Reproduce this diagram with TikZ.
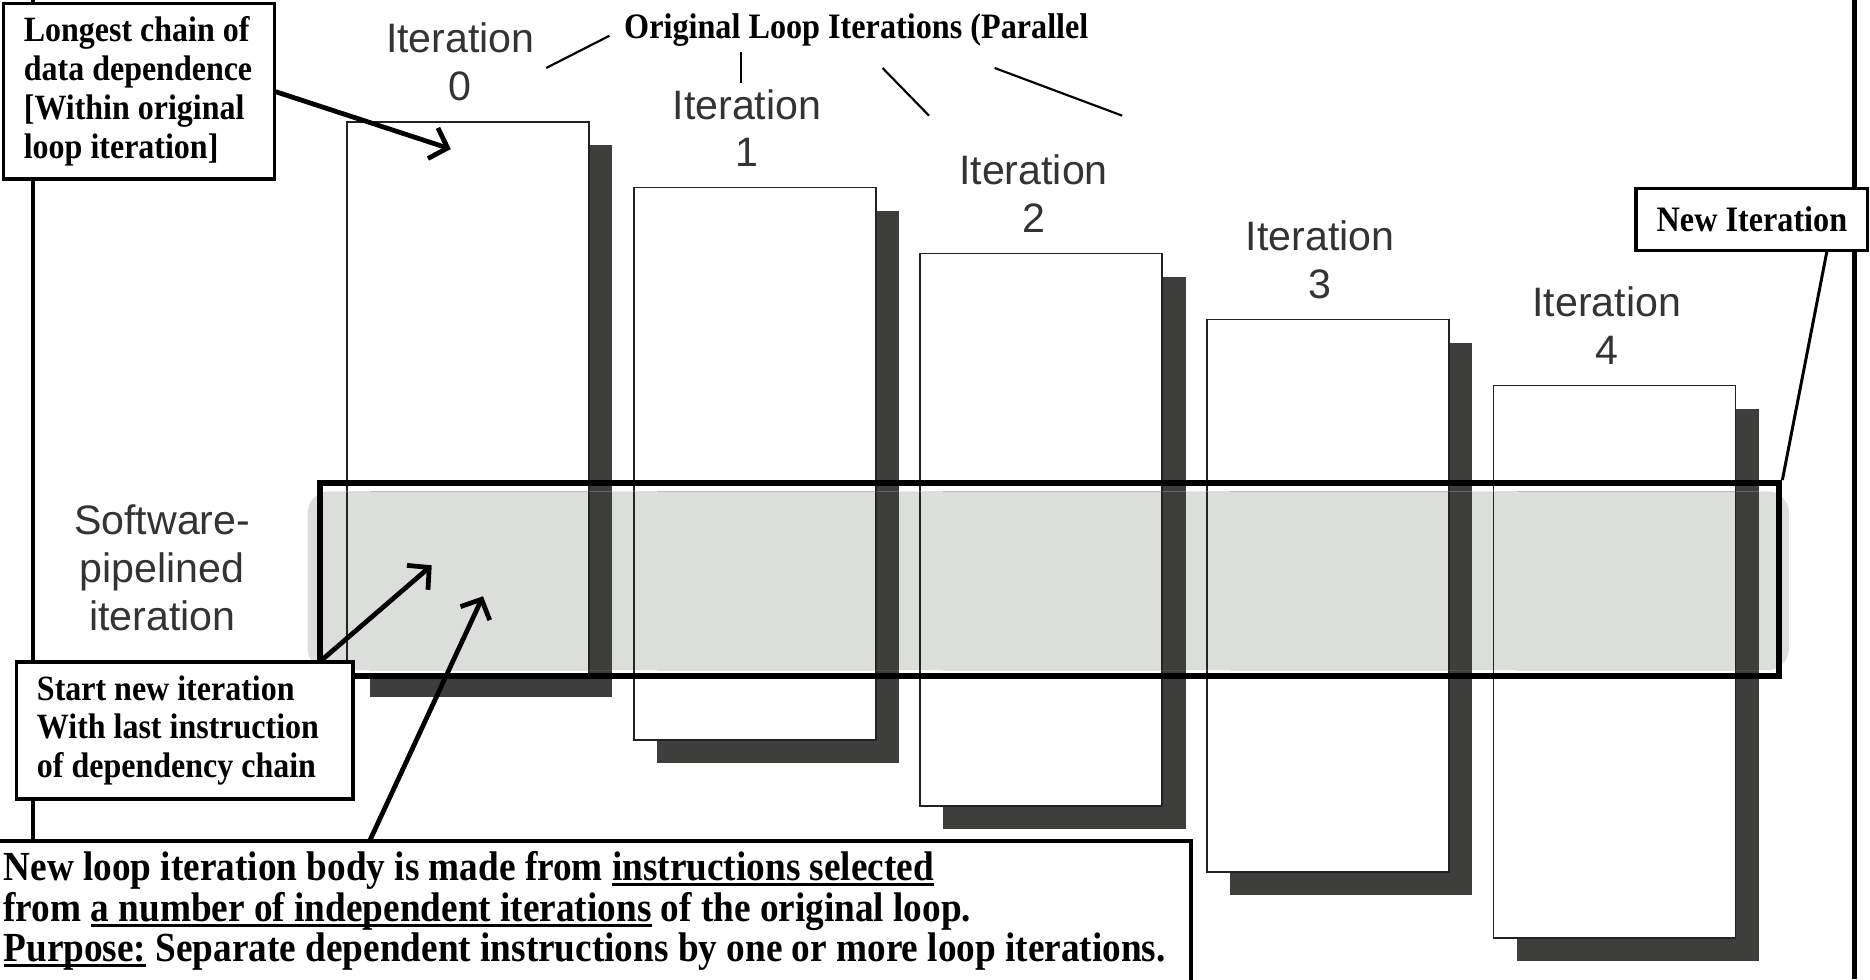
\documentclass[tikz,border=0pt]{standalone}
\usepackage{fontspec}
\setmainfont{Liberation Serif}
\newfontfamily\sansf{Liberation Sans}
\newfontfamily\condserif{Liberation Serif}[FakeStretch=0.9]
\usetikzlibrary{arrows.meta,calc}
\definecolor{shadowc}{HTML}{3E3F3C}
\definecolor{bandc}{HTML}{DCDEDB}
\definecolor{boxline}{HTML}{222222}
\definecolor{labelc}{HTML}{333333}
\newcommand\myul[1]{\setbox0\hbox{#1}\rlap{\rule[-4.5pt]{\wd0}{2.5pt}}\box0\relax}
\begin{document}
\begin{tikzpicture}[x=1pt,y=-1pt,
  itbox/.style={draw=boxline, line width=1.5pt, fill=white, minimum width=203pt, minimum height=463pt, inner sep=0pt, outer sep=0pt},
  shadowbox/.style={fill=shadowc, minimum width=203pt, minimum height=463pt, inner sep=0pt, outer sep=0pt},
  itlabel/.style={align=center, text=labelc, font=\sansf\fontsize{34.5}{40}\selectfont, inner sep=0pt},
  callout/.style={draw=black, line width=3pt, fill=white, font=\condserif\bfseries\fontsize{29.8}{32.5}\selectfont, inner ysep=0pt, outer sep=0pt},
  arr/.style={line width=4pt, -{Straight Barb[length=13pt,width=27pt]}},
  thinln/.style={line width=1.8pt}
]
\useasboundingbox (0,0) rectangle (1568,821);
% page border lines
\draw[line width=3.5pt] (28,0) -- (28,705);
\draw[line width=3.5pt] (1555,0) -- (1555,821);
% iteration boxes
\foreach \i in {0,...,4}{
  \pgfmathsetmacro\cx{291+240.3*\i+101.5}
  \pgfmathsetmacro\cy{102+55.3*\i+231.5}
  \node[shadowbox] (s\i) at (\cx+19.5,\cy+19.5) {};
  \node[itbox] (b\i) at (\cx,\cy) {};
  \node[itlabel] (l\i) at (\cx-6.5,\cy-281.5) {Iteration\\\i};
}
% software pipelined band
\fill[bandc, rounded corners=18pt] (258,412) rectangle (1500,562);
\begin{scope}
  \clip[rounded corners=18pt] (258,412) rectangle (1500,562);
  \foreach \i in {0,...,4}{
    \fill[shadowc] (s\i.south west) rectangle (s\i.north east);
    \filldraw[fill=bandc, draw=boxline, line width=1.5pt] (b\i.south west) rectangle (b\i.north east);
  }
\end{scope}
\node[draw=black, line width=5pt, minimum width=1224pt, minimum height=162pt, inner sep=0pt] (pipe) at (880,486) {};
\node[itlabel] (sw) at (136,476) {Software-\\pipelined\\iteration};
% title
\node[font=\condserif\bfseries\fontsize{30}{32.5}\selectfont, inner sep=0pt] (ol) at (718,25) {Original Loop Iterations (Parallel};
\coordinate (o1a) at (458,57); \coordinate (o1b) at (511,30);
\coordinate (o2a) at (621,44); \coordinate (o2b) at (621,70);
\coordinate (o3a) at (740,57); \coordinate (o3b) at (779,97);
\coordinate (o4a) at (834,57); \coordinate (o4b) at (941,97);
\draw[thinln] (o1a) -- (o1b);
\draw[thinln] (o2a) -- (o2b);
\draw[thinln] (o3a) -- (o3b);
\draw[thinln] (o4a) -- (o4b);
% callouts
\node[callout, align=flush left, text width=193pt, inner xsep=17pt, minimum height=147pt, anchor=north west] (lc) at (3,3)
  {Longest chain of\\data dependence\\{[}Within original\\loop iteration{]}};
\node[callout, align=flush left, text width=248pt, inner xsep=17pt, minimum height=115pt, anchor=north west] (sn) at (14,555)
  {Start new iteration\\With last instruction\\of dependency chain};
\node[callout, align=center, minimum width=194pt, minimum height=52pt, inner xsep=0pt, anchor=north west,
      font=\condserif\bfseries\fontsize{30}{32.5}\selectfont] (ni) at (1372,158)
  {New Iteration};
\node[callout, align=left, inner xsep=8pt, minimum height=118pt, anchor=north west,
      font=\condserif\bfseries\fontsize{34.7}{34}\selectfont] (nb) at (-5,705)
  {New loop iteration body is made from \myul{instructions selected}\\
   from \myul{a number of independent iterations} of the original loop.\\
   \myul{Purpose:} Separate dependent instructions by one or more loop iterations.\hspace*{13pt}};
% arrows
\coordinate (t1) at (378,125);
\coordinate (t2) at (362,474);
\coordinate (t3) at (405,500);
\draw[arr] (lc.east) -- (t1);
\draw[arr] ($(sn.north east)+(-28,0)$) -- (t2);
\draw[arr] ($(nb.north west)+(315,0)$) -- (t3);
\draw[line width=2.5pt] ($(ni.south east)+(-34,0)$) -- (pipe.north east);
\end{tikzpicture}
\end{document}
